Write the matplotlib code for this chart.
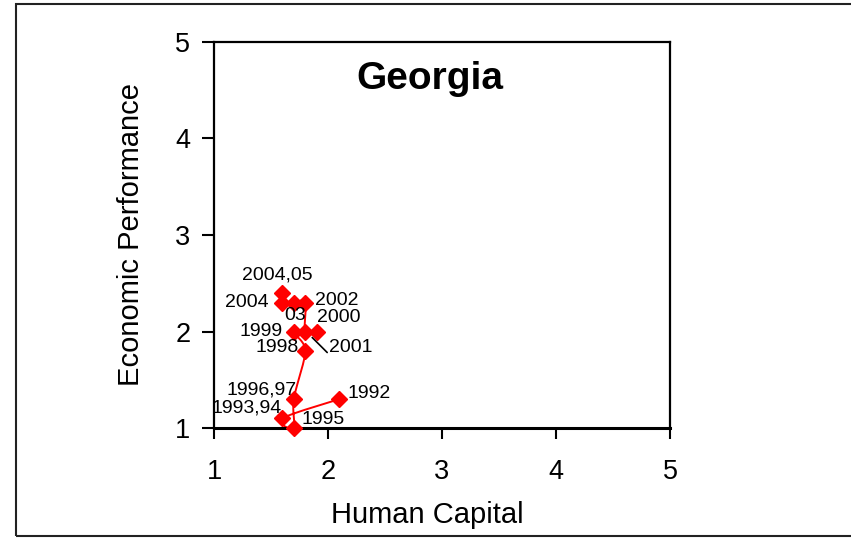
import numpy as np
import matplotlib
matplotlib.use("Agg")
import matplotlib.pyplot as plt
from matplotlib.patches import Rectangle
from matplotlib.transforms import offset_copy

plt.rcParams['font.family'] = ['Liberation Sans', 'DejaVu Sans']

# ---- data ----
labels = ["1992", "1993,94", "1995", "1996,97", "1998", "1999", "2000", "2001",
          "2002", "03", "2004", "2004,05"]
human_capital = [2.1, 1.6, 1.7, 1.7, 1.8, 1.7, 1.9, 1.8, 1.8, 1.7, 1.6, 1.6]
economic_perf = [1.3, 1.1, 1.0, 1.3, 1.8, 2.0, 2.0, 2.0, 2.3, 2.3, 2.3, 2.4]
ticks = [1, 2, 3, 4, 5]

# label placement (offset in pixels, horizontal alignment)
label_offsets = [(8, 6), (-1, 10), (8, 8), (3, 9), (-6, 3), (-11, 0), (0, 14),
                 (24, -16), (10, 2), (1, -13), (-14, 0), (-5, 18)]
label_ha = ["left", "right", "left", "right", "right", "right", "left", "left",
            "left", "center", "right", "center"]


def catmull_rom(xs, ys, n=20):
    xs = np.asarray(xs, float)
    ys = np.asarray(ys, float)
    P = np.column_stack([xs, ys])
    P = np.vstack([P[0], P, P[-1]])
    out = []
    for i in range(1, len(P) - 2):
        p0, p1, p2, p3 = P[i - 1], P[i], P[i + 1], P[i + 2]
        c1 = p1 + (p2 - p0) / 6.0
        c2 = p2 - (p3 - p1) / 6.0
        t = np.linspace(0, 1, n)[:, None]
        seg = ((1 - t) ** 3) * p1 + 3 * ((1 - t) ** 2) * t * c1 + 3 * (1 - t) * t ** 2 * c2 + t ** 3 * p2
        out.append(seg if i == 1 else seg[1:])
    arr = np.vstack(out)
    return arr[:, 0], arr[:, 1]


fig = plt.figure(figsize=(8.51, 5.39), dpi=100)
ax = fig.add_axes([214 / 851, 111 / 539, 456 / 851, 386 / 539])
ax.set_xlim(1, 5)
ax.set_ylim(1, 5)

sx, sy = catmull_rom(human_capital, economic_perf)
ax.plot(sx, sy, color='#ff0000', lw=1.4, zorder=2, clip_on=False)
ax.plot(human_capital, economic_perf, linestyle='none', marker='D', markersize=8.5,
        color='#ff0000', markeredgecolor='#ff0000', zorder=3, clip_on=False)

for lab, x, y, off, ha in zip(labels, human_capital, economic_perf, label_offsets, label_ha):
    ax.annotate(lab, (x, y), xytext=off, textcoords='offset pixels',
                ha=ha, va='center', fontsize=14, color='black', zorder=4)

# leader line for 2001 label
i2001 = labels.index("2001")
pt = (human_capital[i2001], economic_perf[i2001])
tr1 = offset_copy(ax.transData, fig=fig, x=7, y=-6, units='dots')
tr2 = offset_copy(ax.transData, fig=fig, x=22, y=-21, units='dots')
ax.annotate("", xy=pt, xycoords=tr2, xytext=pt, textcoords=tr1,
            arrowprops=dict(arrowstyle='-', color='black', lw=1.2,
                            shrinkA=0, shrinkB=0))

ax.set_xticks(ticks)
ax.set_yticks(ticks)
ax.tick_params(axis='x', direction='out', length=8, width=1.5, pad=14, labelsize=19.5)
ax.tick_params(axis='y', direction='out', length=9, width=1.5, pad=8, labelsize=19.5)
for s in ['left', 'top', 'right']:
    ax.spines[s].set_linewidth(1.6)
ax.spines['bottom'].set_linewidth(2.2)

ax.set_xlabel("Human Capital", fontsize=21)
ax.xaxis.set_label_coords(0.467, -0.19)
ax.set_ylabel("Economic Performance", fontsize=21)
ax.yaxis.set_label_coords(-0.151, 0.5)
ax.text(0.474, 0.905, "Georgia", transform=ax.transAxes, ha='center', va='center',
        fontsize=28, fontweight='bold')

fig.add_artist(Rectangle((16 / 851, 3 / 539), 1.0, 532 / 539, transform=fig.transFigure,
                         fill=False, edgecolor='#222222', lw=1.5))

fig.savefig("out.png", dpi=100)
